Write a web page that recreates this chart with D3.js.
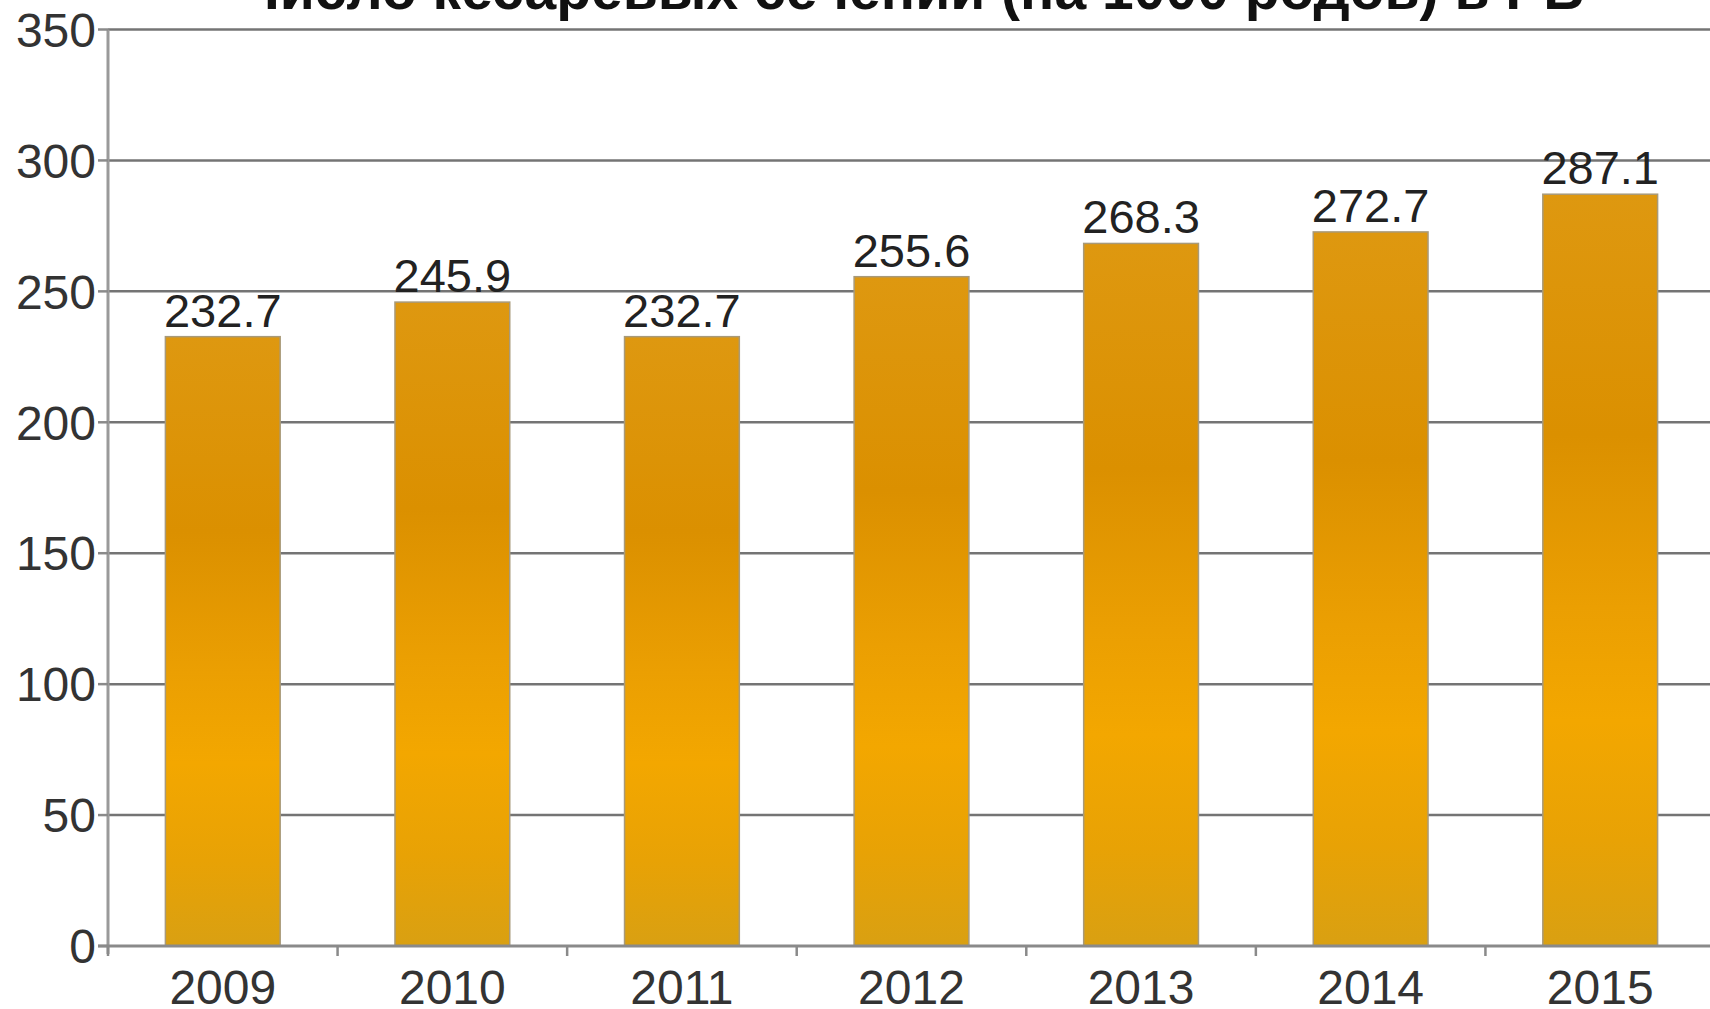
<!DOCTYPE html>
<html>
<head>
<meta charset="utf-8">
<script src="https://cdn.jsdelivr.net/npm/d3@7.8.5/dist/d3.min.js"></script>
<style>
  html, body { margin: 0; padding: 0; background: #fff; overflow: hidden; }
  svg { display: block; font-family: "Liberation Sans", Arial, sans-serif; }
</style>
</head>
<body>
<div id="chart"></div>
<script>
// Data
const years = ['2009', '2010', '2011', '2012', '2013', '2014', '2015'];
const values = [232.7, 245.9, 232.7, 255.6, 268.3, 272.7, 287.1];
const yTicks = [0, 50, 100, 150, 200, 250, 300, 350];
const title = 'Число кесаревых сечений (на 1000 родов) в РБ';

const width = 1710;
const height = 1009;
const margin = { top: 29.5, right: -5, bottom: 63, left: 108 };

const svg = d3.select('#chart').append('svg')
    .attr('width', width)
    .attr('height', height);

// Bar gradient
const defs = svg.append('defs');
const grad = defs.append('linearGradient')
    .attr('id', 'barFill')
    .attr('x1', 0).attr('y1', 0)
    .attr('x2', 0).attr('y2', 1);
[
    ['0%', '#de9810'],
    ['32%', '#db9000'],
    ['55%', '#eb9f02'],
    ['70%', '#f3a700'],
    ['86%', '#e8a205'],
    ['100%', '#d9a012']
].forEach(([o, c]) => grad.append('stop').attr('offset', o).attr('stop-color', c));

const x = d3.scaleBand()
    .domain(years)
    .range([margin.left, width - margin.right])
    .paddingInner(0.5)
    .paddingOuter(0.25);

const y = d3.scaleLinear()
    .domain([0, 350])
    .range([height - margin.bottom, margin.top]);

const step = x.step();
const x0 = x.range()[0];

// Horizontal grid lines
svg.append('g')
    .selectAll('line')
    .data(yTicks.filter(d => d > 0))
    .enter()
    .append('line')
    .attr('x1', margin.left)
    .attr('x2', width)
    .attr('y1', d => y(d))
    .attr('y2', d => y(d))
    .attr('stroke', '#747474')
    .attr('stroke-width', 2.5);

// Y axis line and ticks
svg.append('line')
    .attr('x1', margin.left).attr('x2', margin.left)
    .attr('y1', y(350)).attr('y2', y(0) + 8)
    .attr('stroke', '#9a9a9a')
    .attr('stroke-width', 3);

svg.append('g')
    .selectAll('line')
    .data(yTicks)
    .enter()
    .append('line')
    .attr('x1', margin.left - 10)
    .attr('x2', margin.left)
    .attr('y1', d => y(d))
    .attr('y2', d => y(d))
    .attr('stroke', '#8a8a8a')
    .attr('stroke-width', 2.5);

svg.append('g')
    .selectAll('text')
    .data(yTicks)
    .enter()
    .append('text')
    .attr('x', margin.left - 12)
    .attr('y', d => y(d))
    .attr('dy', '0.36em')
    .attr('text-anchor', 'end')
    .style('font-size', '48px')
    .style('fill', '#333')
    .text(d => d);

// Bars
svg.append('g')
    .selectAll('rect')
    .data(values)
    .enter()
    .append('rect')
    .attr('x', (d, i) => x(years[i]))
    .attr('y', d => y(d))
    .attr('width', x.bandwidth())
    .attr('height', d => y(0) - y(d))
    .attr('fill', 'url(#barFill)')
    .attr('stroke', '#a89a7a')
    .attr('stroke-width', 1.5);

// X axis line and ticks
svg.append('line')
    .attr('x1', margin.left - 10)
    .attr('x2', width)
    .attr('y1', y(0))
    .attr('y2', y(0))
    .attr('stroke', '#8a8a8a')
    .attr('stroke-width', 3);

svg.append('g')
    .selectAll('line')
    .data(d3.range(years.length + 1))
    .enter()
    .append('line')
    .attr('x1', i => x0 + i * step)
    .attr('x2', i => x0 + i * step)
    .attr('y1', y(0))
    .attr('y2', y(0) + 10)
    .attr('stroke', '#8a8a8a')
    .attr('stroke-width', 2.5);

svg.append('g')
    .selectAll('text')
    .data(years)
    .enter()
    .append('text')
    .attr('x', d => x(d) + x.bandwidth() / 2)
    .attr('y', 1004)
    .attr('text-anchor', 'middle')
    .style('font-size', '48px')
    .style('fill', '#333')
    .text(d => d);

// Value labels
svg.append('g')
    .selectAll('text')
    .data(values)
    .enter()
    .append('text')
    .attr('x', (d, i) => x(years[i]) + x.bandwidth() / 2)
    .attr('y', d => y(d) - 10)
    .attr('text-anchor', 'middle')
    .style('font-size', '47px')
    .style('fill', '#222')
    .text(d => d.toFixed(1));

// Title (cut off at the top, as in the source)
svg.append('text')
    .attr('x', 912)
    .attr('y', 9)
    .attr('text-anchor', 'middle')
    .style('font-size', '57px')
    .style('font-weight', 'bold')
    .style('fill', '#111')
    .text(title);
</script>
</body>
</html>
